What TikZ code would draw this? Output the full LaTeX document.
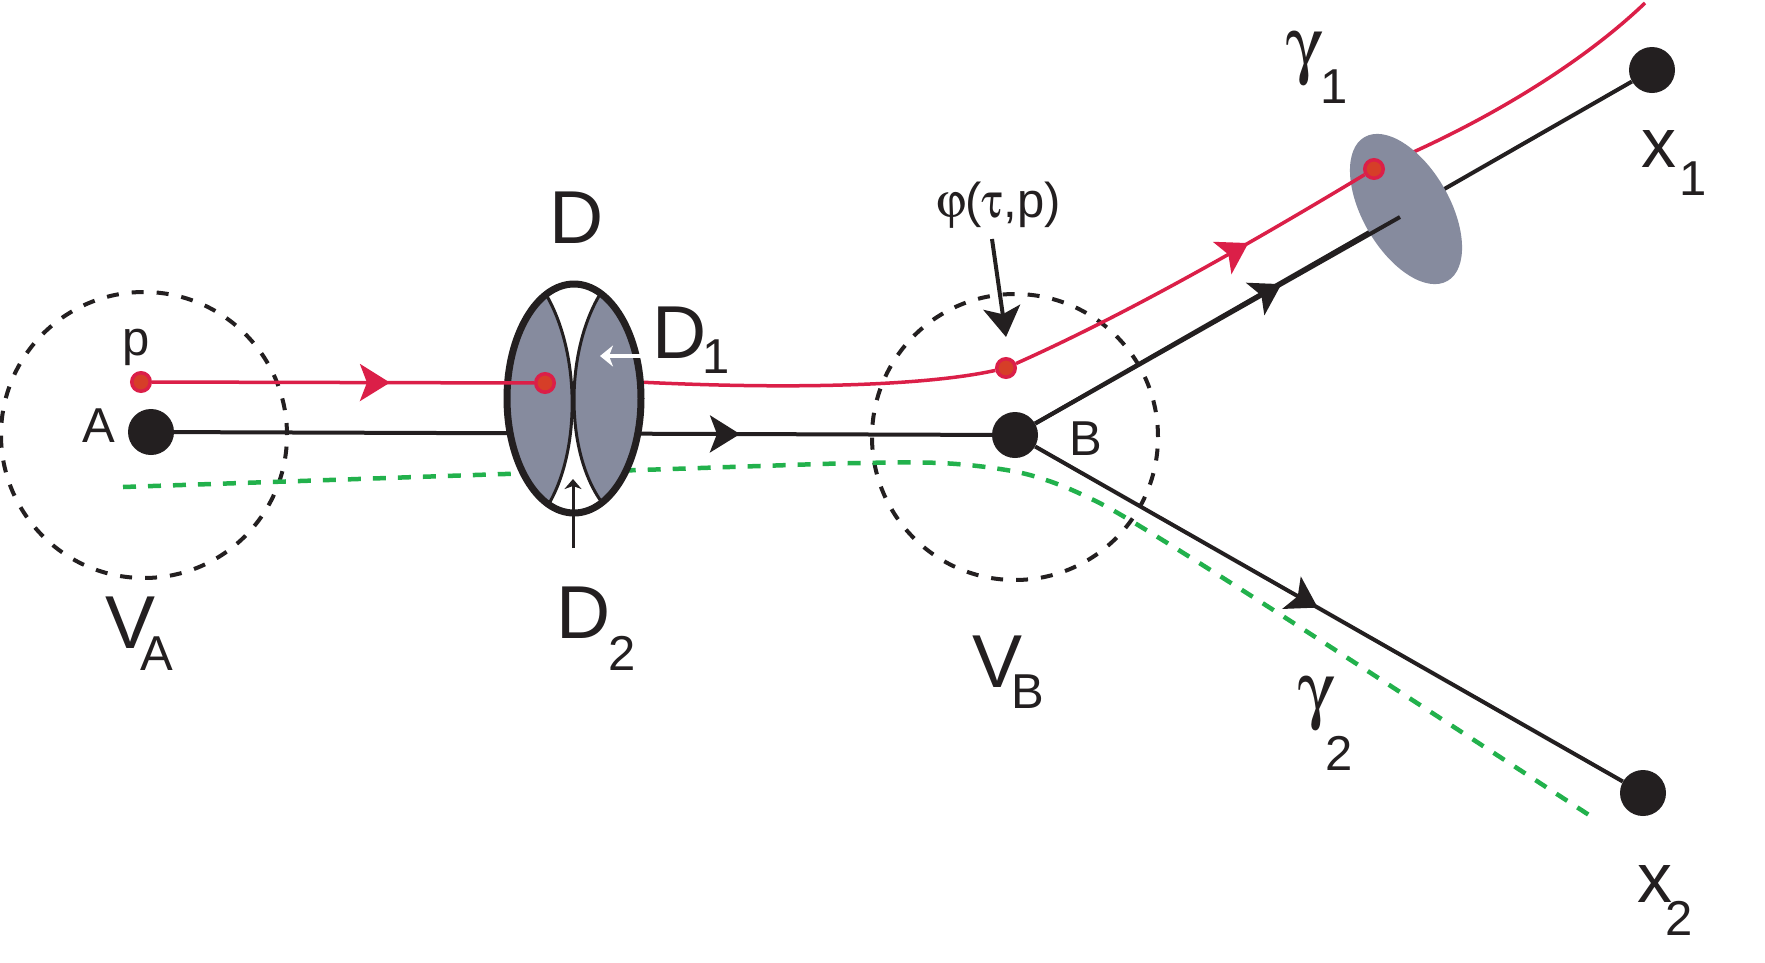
\documentclass[tikz,border=0pt]{standalone}
\usepackage[Symbol]{upgreek}
\usepackage{fontspec}
\setmainfont{Liberation Sans}
\usetikzlibrary{arrows.meta,decorations.markings}
\definecolor{ink}{RGB}{35,31,32}
\definecolor{redline}{RGB}{219,31,72}
\definecolor{reddot}{RGB}{214,62,40}
\definecolor{greenline}{RGB}{34,177,76}
\definecolor{lensgray}{RGB}{134,139,158}
\newcommand\LblBig{\fontsize{75pt}{75pt}\selectfont}
\newcommand\LblSmall{\fontsize{49pt}{49pt}\selectfont}
\newcommand\LblX{\fontsize{70pt}{70pt}\selectfont}
\newcommand\SymF{\fontencoding{U}\fontfamily{psy}\fontseries{m}\fontshape{n}\selectfont}
\tikzset{
  bigtip/.tip={Stealth[length=30pt,width=37pt,inset=7pt]},
  smalltip/.tip={Stealth[length=10pt,width=17pt,inset=3pt]},
  whitetip/.tip={Stealth[length=13pt,width=21pt,inset=4pt]},
  midarrow/.style={postaction={decorate},decoration={markings,mark=at position #1 with {\arrow{bigtip}}}},
  blackdot/.style={circle,fill=ink,inner sep=0pt,minimum size=46pt},
  reddotn/.style={circle,draw=redline,line width=3.5pt,fill=reddot,inner sep=0pt,minimum size=18.5pt},
  lbl/.style={inner sep=0pt,outer sep=0pt,text=ink,anchor=base west},
  vcircle/.style={draw=ink,line width=4pt,dash pattern=on 12pt off 13pt},
  blackpath/.style={color=ink,line width=4pt},
  redpath/.style={color=redline,line width=3.5pt},
  greenpath/.style={draw=greenline,line width=4.5pt,dash pattern=on 13pt off 12pt},
}
\begin{document}
\begin{tikzpicture}[x=1pt,y=-1pt]
\fill[white] (0,0) rectangle (1765,962);
\useasboundingbox (0,0) rectangle (1765,962);

% neighbourhoods
\draw[vcircle] (144,435) circle[radius=143pt];
\draw[vcircle] (1015,437) circle[radius=143pt];

% green dashed curve
\draw[greenpath] plot[smooth,tension=0.6] coordinates {(123,487) (300,481) (505,474) (640,470) (760,466) (860,463) (940,463) (1000,469) (1040,478) (1083,495) (1133,522) (1253,597) (1420,705) (1589,815)};

% black points
\node[blackdot] (A) at (151,432) {};
\node[blackdot] (B) at (1015,435) {};
\node[blackdot] (X1) at (1652,70) {};
\node[blackdot] (X2) at (1643,793) {};

\draw[blackpath,midarrow=0.692] (A) -- (B);
\draw[blackpath,midarrow=0.481] (B) -- (X2);
\draw[blackpath] (B) -- (X1);

% red curve behind D and to phi
\coordinate (dR) at (638,382);
\node[reddotn] (rphi) at (1006,368) {};
\draw[redpath] (dR) .. controls (800,390) and (930,385) .. (rphi);
\coordinate (eC) at (1374,169);
\coordinate (rtop) at (1645,3);
\draw[redpath] (eC) .. controls (1470,130) and (1575,70) .. (rtop);

% small disc
\fill[lensgray,rotate around={-60:(1406,209)}] (1406,209) ellipse[x radius=83pt,y radius=43.5pt];
\coordinate (fr) at (1400,217);
\draw[blackpath,midarrow=0.675] (B) -- (fr);
\node[reddotn] (rE) at (eC) {};
\draw[redpath,midarrow=0.66] (rphi) .. controls (1129,313) and (1251,243) .. (rE);

% disc D
\begin{scope}
\clip (574,398.5) ellipse[x radius=67pt,y radius=114.5pt];
\fill[white] (574,398.5) ellipse[x radius=67pt,y radius=114.5pt];
\fill[lensgray] (540,285) .. controls (582,345) and (582,455) .. (545,510) -- (470,510) -- (470,285) -- cycle;
\fill[lensgray] (606,285) .. controls (563,345) and (563,460) .. (608,510) -- (690,510) -- (690,285) -- cycle;
\draw[ink,line width=3pt] (540,285) .. controls (582,345) and (582,455) .. (545,510);
\draw[ink,line width=3pt] (606,285) .. controls (563,345) and (563,460) .. (608,510);
\end{scope}
\draw[ink,line width=7pt] (574,398.5) ellipse[x radius=67pt,y radius=114.5pt];

\node[reddotn] (rp) at (141,382) {};
\node[reddotn] (rD) at (545,383) {};
\draw[redpath,midarrow=0.623] (rp) -- (rD);

% annotation arrows
\coordinate (w1) at (645,356);
\coordinate (w2) at (600,356);
\draw[white,line width=3.5pt,-{whitetip}] (w1) -- (w2);
\coordinate (d2a) at (573,548);
\coordinate (d2b) at (573,479);
\draw[ink,line width=3pt,-{smalltip}] (d2a) -- (d2b);
\coordinate (pha) at (992,239);
\coordinate (phb) at (1006,337);
\draw[ink,line width=4pt,-{bigtip}] (pha) -- (phb);

% labels
\node[lbl] (lp) at (122,355) {\LblSmall p};
\node[lbl] (lA) at (82,442) {\LblSmall A};
\node[lbl] (lVA) at (105,648) {\LblBig V\kern-15pt\raisebox{-22pt}{\LblSmall A}};
\node[lbl] (lD) at (549,243) {\LblBig D};
\node[lbl] (lD1) at (652,358) {\LblBig D\kern-4pt\raisebox{-15pt}{\LblSmall 1}};
\node[lbl] (lD2) at (556,638) {\LblBig D\kern-1.5pt\raisebox{-32pt}{\LblSmall 2}};
\node[lbl] (lphi) at (936,217) {\LblSmall{\SymF j}({\SymF t},p)};
\node[lbl] (lVB) at (972,687) {\LblBig V\kern-10.7pt\raisebox{-21pt}{\LblSmall B}};
\node[lbl] (lB) at (1069,455) {\LblSmall B};
\node[lbl] (lg1) at (1286.6,69.4) {\LblBig{\SymF g}\kern2.6pt\raisebox{-33.6pt}{\LblSmall 1}};
\node[lbl] (lg2) at (1298.6,714.4) {\LblBig{\SymF g}\kern-4pt\raisebox{-55.6pt}{\LblSmall 2}};
\node[lbl] (lx1) at (1641.5,167) {\LblX x\kern3pt\raisebox{-28pt}{\LblSmall 1}};
\node[lbl] (lx2) at (1637.5,902) {\LblX x\kern-7pt\raisebox{-33pt}{\LblSmall 2}};
\end{tikzpicture}
\end{document}
